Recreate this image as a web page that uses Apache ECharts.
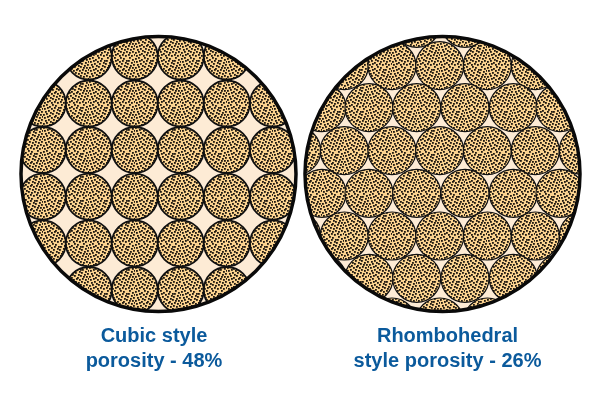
<!DOCTYPE html>
<html>
<head>
<meta charset="utf-8">
<style>html,body{margin:0;padding:0;background:#fff}#main{width:600px;height:400px}</style>
<script src="https://cdn.jsdelivr.net/npm/echarts@6/dist/echarts.min.js"></script>
</head>
<body>
<div id="main"></div>
<script>
var cubicColumns = [42.8, 88.8, 134.8, 180.8, 226.8, 273];
var cubicRows = [56.5, 103.5, 150, 196.7, 243.3, 290];
var cubicRadius = 23;

var rhomboColumnsA = [296.7, 344.3, 392, 439.7, 487.3, 535.3, 583.3];
var rhomboColumnsB = [322, 369, 416.7, 465, 513.3, 560];
var rhomboRowsA = [65.7, 150.7, 236, 322];
var rhomboRowsB = [23.3, 107.7, 193.3, 278.3];
var rhomboRadius = 24;

var cubicDisc = [158.5, 174, 137.5];
var rhomboDisc = [442.5, 174, 137.5];

var cubicTitle = "Cubic style\nporosity - 48%";
var rhomboTitle = "Rhombohedral\nstyle porosity - 26%";

// specks of the sand texture, one 24x24 tile
var specks = [
	[0,1],[3,0],[6,2],[9,0],[12,1],[15,3],[18,0],[21,2],
	[1,4],[4,3],[8,4],[11,3],[14,5],[17,3],[20,5],[23,4],
	[2,7],[5,6],[7,8],[10,6],[13,8],[16,6],[19,8],[22,7],
	[0,10],[3,9],[6,11],[9,9],[12,11],[15,9],[18,10],[21,10],
	[1,13],[4,12],[8,13],[11,12],[14,13],[17,12],[20,13],[23,12],
	[2,16],[5,15],[7,17],[10,15],[13,16],[16,15],[19,16],[22,15],
	[0,19],[3,18],[6,20],[9,18],[12,19],[15,18],[18,19],[21,18],
	[1,22],[4,21],[8,22],[11,21],[14,22],[17,21],[20,22],[23,21]
];

function makeSandTile() {
	var tile = document.createElement("canvas");
	tile.width = 24;
	tile.height = 24;
	var ctx = tile.getContext("2d");
	ctx.fillStyle = "#fad28f";
	ctx.fillRect(0, 0, 24, 24);
	ctx.fillStyle = "#1f1810";
	specks.forEach(function(s) {
		ctx.fillRect(s[0], s[1], 1.8, 1.8);
	});
	return tile;
}

function crossRows(columns, rows) {
	var out = [];
	rows.forEach(function(y) {
		columns.forEach(function(x) {
			out.push([x, y]);
		});
	});
	return out;
}

var sand = { image: makeSandTile(), repeat: "repeat" };

// grain drawn with its own texture origin, cut by the big disc
function grainRenderer(disc, radius, lineWidth) {
	return function(params, api) {
		var p = api.coord([api.value(0), api.value(1)]);
		var c = api.coord([disc[0], disc[1]]);
		var r = api.size([radius, 0])[0];
		var R = api.size([disc[2], 0])[0];
		// whole pixels keep the tile sharp
		var x = Math.round(p[0]);
		var y = Math.round(p[1]);
		return {
			type: "circle",
			x: x,
			y: y,
			shape: { cx: p[0] - x, cy: p[1] - y, r: r },
			style: { fill: sand, stroke: "#111", lineWidth: lineWidth },
			clipPath: { type: "circle", shape: { cx: c[0] - x, cy: c[1] - y, r: R } }
		};
	};
}

function discRenderer(fill, stroke) {
	return function(params, api) {
		var c = api.coord([api.value(0), api.value(1)]);
		var R = api.size([api.value(2), 0])[0];
		return {
			type: "circle",
			shape: { cx: c[0], cy: c[1], r: R },
			style: { fill: fill, stroke: stroke, lineWidth: 3.5 }
		};
	};
}

function titleOf(text, x) {
	return {
		text: text,
		left: x,
		top: 319,
		textAlign: "center",
		textStyle: {
			fontFamily: "Liberation Sans",
			fontWeight: "bold",
			fontSize: 20,
			lineHeight: 25,
			color: "#0b5a9c"
		}
	};
}

var chart = echarts.init(document.getElementById("main"));
chart.setOption({
	animation: false,
	title: [titleOf(cubicTitle, 149), titleOf(rhomboTitle, 442.5)],
	grid: { left: 0, right: 0, top: 0, bottom: 0 },
	xAxis: { type: "value", min: 0, max: 600, show: false },
	yAxis: { type: "value", min: 0, max: 400, inverse: true, show: false },
	series: [
		{ type: "custom", clip: false, z: 1, data: [cubicDisc, rhomboDisc], renderItem: discRenderer("#fdebd5", null) },
		{ type: "custom", clip: false, z: 2, data: crossRows(cubicColumns, cubicRows), renderItem: grainRenderer(cubicDisc, cubicRadius, 1.8) },
		{ type: "custom", clip: false, z: 2, data: crossRows(rhomboColumnsA, rhomboRowsA).concat(crossRows(rhomboColumnsB, rhomboRowsB)), renderItem: grainRenderer(rhomboDisc, rhomboRadius, 1.2) },
		{ type: "custom", clip: false, z: 3, data: [cubicDisc, rhomboDisc], renderItem: discRenderer("transparent", "#0a0a0a") }
	]
});
</script>
</body>
</html>
